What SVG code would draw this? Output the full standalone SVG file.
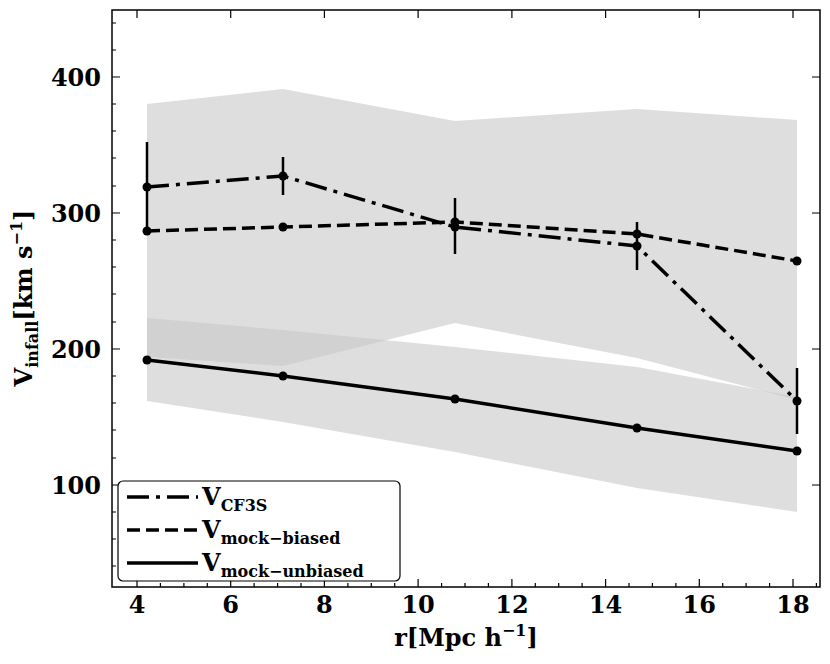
<svg xmlns="http://www.w3.org/2000/svg" width="830" height="664" viewBox="0 0 830 664">
<style>
.t{font-family:"DejaVu Serif","Liberation Serif",serif;font-weight:bold;font-size:24px;fill:#000}
.s{font-family:"DejaVu Serif","Liberation Serif",serif;font-weight:bold;font-size:16px}
.band{fill:#c8c8c8;fill-opacity:0.6;stroke:none}
.ln{fill:none;stroke:#000;stroke-width:3.5}
.tk{stroke:#000;stroke-width:1.2}
</style>
<rect width="830" height="664" fill="#fff"/>
<g id="bands">
<polygon class="band" points="147,104 283,89 455,121 637,109 797,120 797,400 637,358 455,323 283,366 147,357"/>
<polygon class="band" points="147,318 283,330 455,347 637,367 797,397 797,512 637,488 455,452 283,422 147,401"/>
</g>
<g id="connectors">
<polyline class="ln" points="147,360 283,376 455,399 637,428 797,451"/>
<polyline class="ln" stroke-dasharray="13,6" points="147,231 283,227 455,222 637,234 797,261"/>
<polyline class="ln" stroke-dasharray="22,7,4,7" points="147,187 283,176 455,227 637,246 797,401"/>
<g stroke="#000" stroke-width="2.5">
<line x1="147" y1="142" x2="147" y2="232"/><line x1="283" y1="157" x2="283" y2="195"/>
<line x1="455" y1="198" x2="455" y2="254"/><line x1="637" y1="222" x2="637" y2="270"/>
<line x1="797" y1="368" x2="797" y2="434"/>
</g>
<g fill="#000">
<circle cx="147" cy="360" r="4.5"/><circle cx="283" cy="376" r="4.5"/><circle cx="455" cy="399" r="4.5"/><circle cx="637" cy="428" r="4.5"/><circle cx="797" cy="451" r="4.5"/>
<circle cx="147" cy="231" r="4.5"/><circle cx="283" cy="227" r="4.5"/><circle cx="455" cy="222" r="4.5"/><circle cx="637" cy="234" r="4.5"/><circle cx="797" cy="261" r="4.5"/>
<circle cx="147" cy="187" r="4.5"/><circle cx="283" cy="176" r="4.5"/><circle cx="455" cy="227" r="4.5"/><circle cx="637" cy="246" r="4.5"/><circle cx="797" cy="401" r="4.5"/>
</g>
</g>
<g id="axes">
<rect x="112" y="10" width="708" height="577" fill="none" stroke="#000" stroke-width="1.5"/>
<g class="tk">
<path d="M137,587v-8M137,10v8M230.7,587v-8M230.7,10v8M324.4,587v-8M324.4,10v8M418.1,587v-8M418.1,10v8M511.9,587v-8M511.9,10v8M605.6,587v-8M605.6,10v8M699.3,587v-8M699.3,10v8M793,587v-8M793,10v8"/>
<path d="M160.4,587v-4M183.9,587v-4M207.3,587v-4M254.1,587v-4M277.6,587v-4M301,587v-4M347.9,587v-4M371.3,587v-4M394.7,587v-4M441.6,587v-4M465,587v-4M488.4,587v-4M535.3,587v-4M558.7,587v-4M582.1,587v-4M629,587v-4M652.4,587v-4M675.9,587v-4M722.7,587v-4M746.1,587v-4M769.6,587v-4M816.4,587v-4"/>
<path d="M112,77h8M820,77h-8M112,213h8M820,213h-8M112,349h8M820,349h-8M112,485h8M820,485h-8"/>
<path d="M112,23h4M112,50h4M112,104h4M112,131h4M112,158h4M112,186h4M112,240h4M112,267h4M112,294h4M112,322h4M112,376h4M112,403h4M112,430h4M112,458h4M112,512h4M112,539h4M112,566h4"/>
</g>
<g class="t" text-anchor="middle">
<text x="137" y="613">4</text><text x="230.7" y="613">6</text><text x="324.4" y="613">8</text><text x="418.1" y="613">10</text><text x="511.9" y="613">12</text><text x="605.6" y="613">14</text><text x="699.3" y="613">16</text><text x="793" y="613">18</text>
</g>
<g class="t" text-anchor="end">
<text x="101" y="86">400</text><text x="101" y="222">300</text><text x="101" y="358">200</text><text x="101" y="494">100</text>
</g>
<text class="t" x="466" y="646" text-anchor="middle">r[Mpc h<tspan font-size="16" dy="-10">−1</tspan><tspan dy="10">]</tspan></text>
<text class="t" transform="translate(32,298) rotate(-90)" text-anchor="middle">V<tspan font-size="16" dy="6">infall</tspan><tspan dy="-6">[km s</tspan><tspan font-size="16" dy="-10">−1</tspan><tspan dy="10">]</tspan></text>
</g>
<g id="legend">
<rect x="118" y="481" width="282" height="100" rx="5" fill="#fff" fill-opacity="0.9" stroke="#000" stroke-width="1.2"/>
<line class="ln" x1="127" y1="497" x2="198" y2="497" stroke-dasharray="22,7,4,7"/>
<line class="ln" x1="127" y1="530" x2="198" y2="530" stroke-dasharray="13,6"/>
<line class="ln" x1="127" y1="563" x2="198" y2="563"/>
<text class="t" x="202" y="505">V<tspan class="s" dy="6">CF3S</tspan></text>
<text class="t" x="202" y="538">V<tspan class="s" dy="6">mock−biased</tspan></text>
<text class="t" x="202" y="571">V<tspan class="s" dy="6">mock−unbiased</tspan></text>
</g>
</svg>
